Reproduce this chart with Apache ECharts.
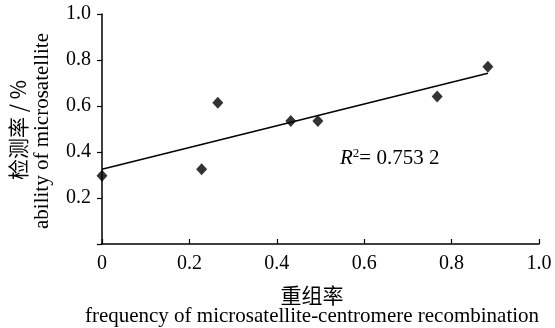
<!DOCTYPE html>
<html>
<head>
<meta charset="utf-8">
<script src="https://cdn.jsdelivr.net/npm/echarts@6/dist/echarts.min.js"></script>
<style>
  html, body { margin: 0; padding: 0; background: #fff; }
  #chart { width: 555px; height: 328px; }
</style>
</head>
<body>
<div id="chart"></div>
<script>
// recombination frequency vs detection ability
const recombFreq = [0, 0.228, 0.265, 0.432, 0.494, 0.767, 0.883]
const detectRate = [0.297, 0.325, 0.614, 0.535, 0.535, 0.641, 0.771]
// fitted trend line ends
const trendX = [0, 0.883]
const trendY = [0.325, 0.742]
const xTicks = ['0', '0.2', '0.4', '0.6', '0.8', '1.0']
const yTicks = ['', '0.2', '0.4', '0.6', '0.8', '1.0']

const SERIF = '"Liberation Serif", "Times New Roman", serif'
const CJK = '"Noto Sans CJK SC", sans-serif'

const chart = echarts.init(document.getElementById('chart'))

chart.setOption({
  animation: false,
  grid: { left: 102, right: 16, top: 14, bottom: 84 },
  xAxis: {
    type: 'value', min: 0, max: 1, interval: 0.2,
    axisLine: { show: true, lineStyle: { color: '#000', width: 1.5 } },
    axisTick: { show: true, inside: true, length: 5, lineStyle: { color: '#000', width: 1.2 } },
    axisLabel: {
      margin: 10, color: '#000', fontSize: 20, fontFamily: SERIF,
      formatter: (v) => xTicks[Math.round(v * 5)],
    },
    splitLine: { show: false },
  },
  yAxis: {
    type: 'value', min: 0, max: 1, interval: 0.2,
    axisLine: { show: true, lineStyle: { color: '#000', width: 1.5 } },
    axisTick: { show: true, length: 5, lineStyle: { color: '#000', width: 1.2 } },
    axisLabel: {
      margin: 11, color: '#000', fontSize: 20, fontFamily: SERIF,
      formatter: (v) => yTicks[Math.round(v * 5)],
    },
    splitLine: { show: false },
  },
  graphic: [
    {
      type: 'text', x: 18, y: 130, rotation: Math.PI / 2,
      style: { text: '检测率 / %', fill: '#000', fontSize: 21, fontFamily: CJK, align: 'center', verticalAlign: 'middle' },
    },
    {
      type: 'text', x: 42, y: 131, rotation: Math.PI / 2,
      style: { text: 'ability of microsatellite', fill: '#000', fontSize: 21, fontFamily: SERIF, align: 'center', verticalAlign: 'middle' },
    },
    {
      type: 'text', x: 312, y: 295,
      style: { text: '重组率', fill: '#000', fontSize: 21, fontFamily: CJK, align: 'center', verticalAlign: 'middle' },
    },
    {
      type: 'text', x: 312, y: 316,
      style: { text: 'frequency of microsatellite-centromere recombination', fill: '#000', fontSize: 21, fontFamily: SERIF, align: 'center', verticalAlign: 'middle' },
    },
    {
      type: 'text', x: 340, y: 158,
      style: {
        text: '{i|R}{s|2}{n|= 0.753 2}',
        align: 'left', verticalAlign: 'middle',
        rich: {
          i: { fontSize: 21, fontStyle: 'italic', fontFamily: SERIF, fill: '#000' },
          s: { fontSize: 13, fontFamily: SERIF, fill: '#000', verticalAlign: 'top', padding: [0, 0, 9, 0] },
          n: { fontSize: 21, fontFamily: SERIF, fill: '#000' },
        },
      },
    },
  ],
  series: [
    {
      type: 'line',
      data: trendX.map((x, i) => [x, trendY[i]]),
      symbol: 'none',
      lineStyle: { color: '#000', width: 1.5 },
      z: 1,
    },
    {
      type: 'scatter',
      data: recombFreq.map((x, i) => [x, detectRate[i]]),
      symbol: 'diamond',
      symbolSize: [11, 12],
      itemStyle: { color: '#000' },
      z: 3,
    },
  ],
})
</script>
</body>
</html>
